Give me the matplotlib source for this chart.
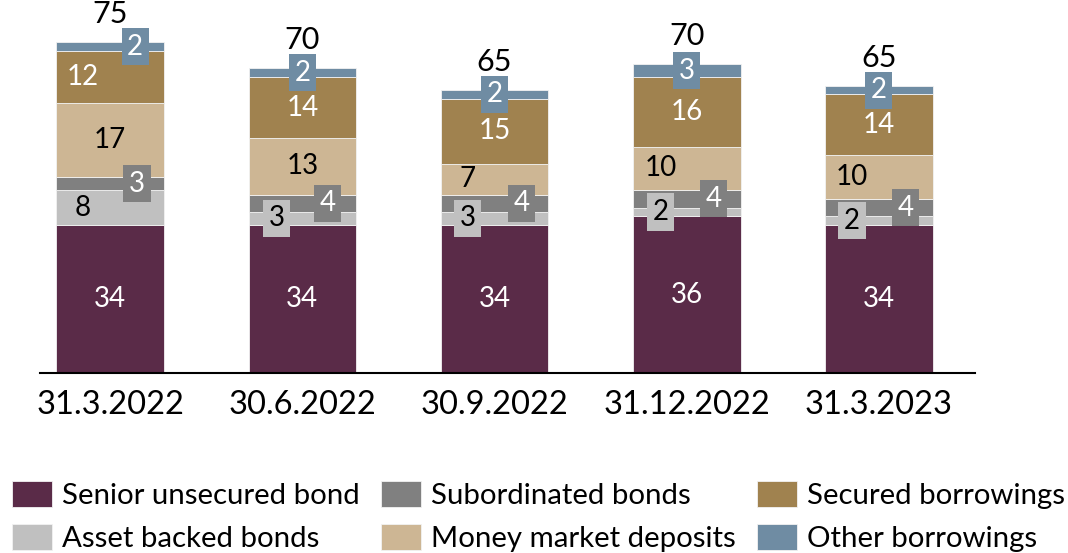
import matplotlib
matplotlib.use("Agg")
import matplotlib.pyplot as plt
import numpy as np

plt.rcParams['font.family'] = ['Lato', 'DejaVu Sans']

dates = ["31.3.2022", "30.6.2022", "30.9.2022", "31.12.2022", "31.3.2023"]
senior = [34, 34, 34, 36, 34]
asset_backed = [8, 3, 3, 2, 2]
subordinated = [3, 4, 4, 4, 4]
money_market = [17, 13, 7, 10, 10]
secured = [12, 14, 15, 16, 14]
other = [2, 2, 2, 3, 2]
totals = [75, 70, 65, 70, 65]

series = [
    ("Senior unsecured bond", senior, "#5a2b48", "white"),
    ("Asset backed bonds", asset_backed, "#c0c0c0", "black"),
    ("Subordinated bonds", subordinated, "#808080", "white"),
    ("Money market deposits", money_market, "#cdb694", "black"),
    ("Secured borrowings", secured, "#a0824f", "white"),
    ("Other borrowings", other, "#6f8ca3", "white"),
]

# label x-offsets (in bar-position units) per series and bar
offsets = {
    "Senior unsecured bond": [0, 0, 0, 0, 0],
    "Asset backed bonds": [-0.145, -0.135, -0.14, -0.135, -0.14],
    "Subordinated bonds": [0.14, 0.13, 0.14, 0.14, 0.14],
    "Money market deposits": [0, 0, -0.14, -0.135, -0.14],
    "Secured borrowings": [-0.14, 0, 0, 0, 0],
    "Other borrowings": [0.13, 0, 0, 0, 0],
}

fig = plt.figure(figsize=(10.68, 5.53), dpi=100)
ax = fig.add_axes([40 / 1068, (553 - 373) / 553, 935 / 1068, 373 / 553])

x = np.arange(len(dates))
width = 0.56
bottom = np.zeros(len(dates))
handles = {}
for name, vals, color, tcolor in series:
    vals = np.array(vals, dtype=float)
    bars = ax.bar(x, vals, width, bottom=bottom, color=color,
                  edgecolor="#f2f2f2", linewidth=0.6, label=name)
    handles[name] = bars
    for i, v in enumerate(vals):
        cy = bottom[i] + v / 2
        cx = x[i] + offsets[name][i]
        boxed = name in ("Subordinated bonds", "Other borrowings") or \
            (name == "Asset backed bonds" and v <= 3)
        kw = {}
        if boxed:
            kw["bbox"] = dict(boxstyle="square,pad=0.2", facecolor=color,
                              edgecolor="none")
        ax.text(cx, cy, f"{int(v)}", ha="center", va="center",
                color=tcolor, fontsize=20, **kw)
    bottom += vals

for i, t in enumerate(totals):
    ax.annotate(f"{t}", (x[i], bottom[i]), xytext=(0, 10),
                textcoords="offset points", ha="center", va="bottom",
                fontsize=22, color="black", annotation_clip=False)

ax.set_xlim(-0.365, 4.5)
ax.set_ylim(0, 85.7)
for s in ["top", "right", "left"]:
    ax.spines[s].set_visible(False)
ax.spines["bottom"].set_linewidth(1.5)
ax.set_yticks([])
ax.set_xticks(x)
ax.set_xticklabels(dates, fontsize=23.5)
ax.tick_params(axis="x", length=0, pad=12)

order = ["Senior unsecured bond", "Asset backed bonds", "Subordinated bonds",
         "Money market deposits", "Secured borrowings", "Other borrowings"]
leg = fig.legend([handles[n] for n in order], order, ncol=3,
                 loc="lower left", bbox_to_anchor=(12 / 1068, 1 / 553),
                 borderaxespad=0, borderpad=0,
                 frameon=False, fontsize=21.2, handlelength=1.36,
                 handleheight=0.98, handletextpad=0.34, columnspacing=0.72,
                 labelspacing=0.5)

fig.savefig("out.png", dpi=100)
